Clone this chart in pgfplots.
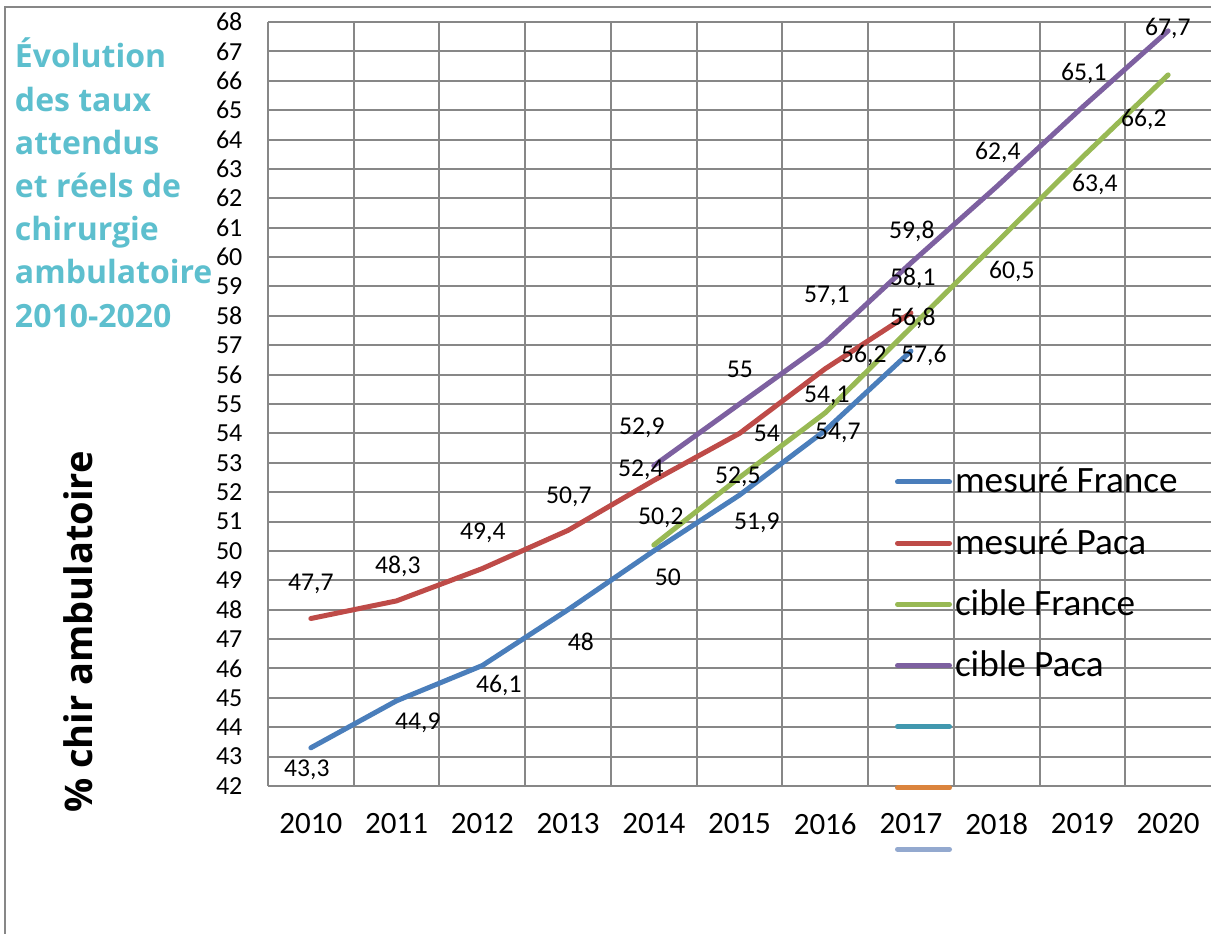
\documentclass[border=0pt]{standalone}
\usepackage{fontspec}
\setmainfont{Carlito}
\newfontfamily\osans{Open Sans}
\usepackage{pgfplots}
\pgfplotsset{compat=1.18}

\definecolor{cBlue}{HTML}{4A7EBB}
\definecolor{cRed}{HTML}{BE4B48}
\definecolor{cGreen}{HTML}{98B954}
\definecolor{cPurple}{HTML}{7D60A0}
\definecolor{cTeal}{HTML}{4198AF}
\definecolor{cOrange}{HTML}{DB843D}
\definecolor{cLight}{HTML}{93A9CF}
\definecolor{cGrid}{HTML}{878787}
\definecolor{cTitle}{HTML}{5DBFCE}
\tikzset{lbl/.style={font=\fontsize{12.8}{15}\selectfont, inner sep=0pt, anchor=base, yshift=-4pt}}

\begin{document}
\begin{tikzpicture}
\useasboundingbox (0,0) rectangle (605.5pt,466.5pt);
\draw[cGrid, line width=1pt] (2.35pt,-2pt) -- (2.35pt,463.15pt) -- (610pt,463.15pt);
\begin{scope}[every node/.style={anchor=base west, inner sep=0pt, text=cTitle, font=\osans\bfseries\fontsize{16}{20}\selectfont}]
\node at (7.3pt,432.5pt) {Évolution};
\node at (7.3pt,410.9pt) {des taux};
\node at (7.3pt,389.3pt) {attendus};
\node at (7.3pt,367.7pt) {et réels de};
\node at (7.3pt,346.1pt) {chirurgie};
\node at (7.3pt,324.5pt) {ambulatoire};
\node at (7.3pt,302.9pt) {2010-2020};
\end{scope}
\node[rotate=90, anchor=base, inner sep=0pt, font=\osans\bfseries\fontsize{19}{23}\selectfont] at (46pt,150.5pt) {\% chir ambulatoire};

\begin{axis}[
  scale only axis, width=471.5pt, height=382pt,
  at={(134pt,73.5pt)}, anchor=south west,
  xmin=-0.5, xmax=10.5, ymin=42, ymax=68,
  axis x line*=bottom, axis y line*=left,
  axis line style={cGrid, line width=1pt},
  xtick={0,...,10},
  xticklabels={2010,2011,2012,2013,2014,2015,2016,2017,2018,2019,2020},
  ytick={42,...,68},
  minor xtick={0.5,1.5,...,9.5},
  xmajorgrids=false, xminorgrids=true, ymajorgrids=true,
  grid style={cGrid, line width=1pt},
  minor grid style={cGrid, line width=1pt},
  major tick length=0pt, minor tick length=0pt,
  tick style={draw=none},
  /pgf/number format/assume math mode=true,
  yticklabel style={font=\fontsize{13}{15}\selectfont, anchor=east, inner sep=0pt, xshift=-12.6pt},
  xticklabel style={font=\fontsize{15.5}{18}\selectfont, anchor=north, inner sep=0pt, yshift=-13.5pt},
  clip=false,
  legend cell align=left,
  legend style={at={(0.6649,0.438)}, anchor=north west, draw=none, fill=none,
    inner sep=0pt, outer sep=0pt, row sep=0pt, column sep=1.5pt,
    font=\fontsize{18.6}{21}\selectfont,
    nodes={inner sep=0pt, text height=20.8pt, text depth=9.8pt, anchor=base west}},
  legend image code/.code={\draw[#1, line width=2.5pt, line cap=round] (1.25pt,5.5pt) -- (27.25pt,5.5pt);},
]
\addplot[cBlue, line width=2.5pt, line join=round, line cap=round] coordinates {
 (0,43.3) (1,44.9) (2,46.1) (3,48) (4,50) (5,51.9) (6,54.1) (7,56.8)};
\addlegendentry{mesuré France}
\addplot[cRed, line width=2.5pt, line join=round, line cap=round] coordinates {
 (0,47.7) (1,48.3) (2,49.4) (3,50.7) (4,52.4) (5,54) (6,56.2) (7,58.1)};
\addlegendentry{mesuré Paca}
\addplot[cGreen, line width=2.5pt, line join=round, line cap=round] coordinates {
 (4,50.2) (5,52.5) (6,54.7) (7,57.6) (8,60.5) (9,63.4) (10,66.2)};
\addlegendentry{cible France}
\addplot[cPurple, line width=2.5pt, line join=round, line cap=round] coordinates {
 (4,52.9) (5,55) (6,57.1) (7,59.8) (8,62.4) (9,65.1) (10,67.7)};
\addlegendentry{cible Paca}
\addlegendimage{cTeal}
\addlegendentry{}
\addlegendimage{cOrange}
\addlegendentry{}
\addlegendimage{cLight}
\addlegendentry{}

% data labels
\node[lbl] at (axis cs:-0.047,42.61) {43,3};
\node[lbl] at (axis cs:1.248,44.18) {44,9};
\node[lbl] at (axis cs:2.193,45.44) {46,1};
\node[lbl] at (axis cs:3.149,46.87) {48};
\node[lbl] at (axis cs:4.164,49.08) {50};
\node[lbl] at (axis cs:5.202,50.99) {51,9};
\node[lbl] at (axis cs:6.019,55.31) {54,1};
\node[lbl] at (axis cs:7.022,57.96) {56,8};
\node[lbl] at (axis cs:0,48.94) {47,7};
\node[lbl] at (axis cs:1.015,49.52) {48,3};
\node[lbl] at (axis cs:2.006,50.65) {49,4};
\node[lbl] at (axis cs:3.009,51.90) {50,7};
\node[lbl] at (axis cs:3.849,52.82) {52,4};
\node[lbl] at (axis cs:5.319,54.01) {54};
\node[lbl] at (axis cs:6.450,56.70) {56,2};
\node[lbl] at (axis cs:7.022,59.29) {58,1};
\node[lbl] at (axis cs:4.083,51.16) {50,2};
\node[lbl] at (axis cs:4.981,52.55) {52,5};
\node[lbl] at (axis cs:6.147,54.05) {54,7};
\node[lbl] at (axis cs:7.150,56.67) {57,6};
\node[lbl] at (axis cs:8.177,59.53) {60,5};
\node[lbl] at (axis cs:9.145,62.52) {63,4};
\node[lbl] at (axis cs:9.717,64.70) {66,2};
\node[lbl] at (axis cs:3.861,54.22) {52,9};
\node[lbl] at (axis cs:5.004,56.16) {55};
\node[lbl] at (axis cs:6.019,58.71) {57,1};
\node[lbl] at (axis cs:7.010,60.92) {59,8};
\node[lbl] at (axis cs:8.014,63.58) {62,4};
\node[lbl] at (axis cs:9.017,66.27) {65,1};
\node[lbl] at (axis cs:9.997,67.80) {67,7};
\end{axis}
\end{tikzpicture}
\end{document}
